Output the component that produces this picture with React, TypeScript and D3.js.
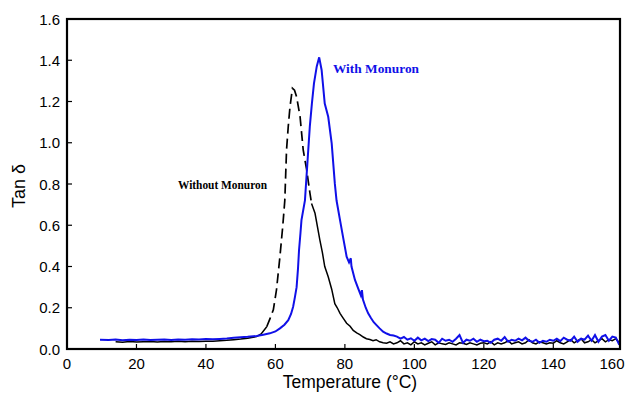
import React from "react";
import * as d3 from "d3";

// ---- Data ----
const withTemp = [
  9.5, 12, 14, 16, 18, 20, 22, 24, 26, 28, 30, 32, 34, 36, 38, 40, 42, 44, 46, 48, 50, 52,
  54.6, 56.5, 58.4, 60, 61.3, 62.6, 63.7, 64.5, 65.1, 65.6, 66.1, 66.5, 66.8, 67.2, 67.5,
  68.5, 69.2, 69.9, 70.5, 71.1, 71.9, 72.6, 73.3, 74.2, 75.2, 76.2, 77.1, 77.6, 78.6, 79.5,
  80.5, 81.2, 81.7, 81.9, 82.9, 83.9, 84.6, 84.9, 85.2, 86.0, 86.7, 87.5, 88.3, 89.1, 90.0,
  91.0, 92.0, 93.0, 94.0, 95.0,
  96, 97, 98, 99, 100, 101, 102, 103, 104, 105, 106, 107, 108, 109, 110, 111, 112, 113, 114,
  115, 116, 117, 118, 119, 120, 121, 122, 123, 124, 125, 126, 127, 128, 129, 130, 131, 132,
  133, 134, 135, 136, 137, 138, 139, 140, 141, 142, 143, 144, 145, 146, 147, 148, 149, 150,
  151, 152, 153, 154, 155, 156, 157, 158, 159,
];
const withTan = [
  0.045, 0.044, 0.046, 0.043, 0.045, 0.044, 0.046, 0.044, 0.045, 0.046, 0.044, 0.046, 0.045,
  0.047, 0.046, 0.048, 0.047, 0.049, 0.051, 0.054, 0.057, 0.059,
  0.063, 0.069, 0.076, 0.085, 0.1, 0.118, 0.14, 0.17, 0.205, 0.25, 0.3, 0.39, 0.48, 0.56, 0.625,
  0.72, 0.9, 1.078, 1.19, 1.288, 1.37, 1.414, 1.353, 1.19, 1.126, 0.997, 0.803, 0.72, 0.625, 0.54,
  0.448, 0.42, 0.44, 0.4, 0.335, 0.29, 0.26, 0.285, 0.24, 0.2, 0.173, 0.15, 0.13, 0.116, 0.1,
  0.084, 0.075, 0.068, 0.065, 0.06,
  0.05, 0.058, 0.045, 0.052, 0.04, 0.055, 0.042, 0.05, 0.038, 0.048, 0.045, 0.03, 0.05, 0.04,
  0.045, 0.035, 0.05, 0.068, 0.03, 0.045, 0.04, 0.05, 0.035, 0.045, 0.038, 0.04, 0.03, 0.045,
  0.05, 0.04, 0.058, 0.035, 0.045, 0.04, 0.05, 0.042, 0.055, 0.04, 0.035, 0.045, 0.03, 0.04,
  0.035, 0.045, 0.04, 0.05, 0.038, 0.055, 0.045, 0.04, 0.06, 0.035, 0.05, 0.045, 0.065, 0.04,
  0.068, 0.035, 0.06, 0.068, 0.04, 0.06, 0.055, 0.02,
];

const withoutTemp = [
  14, 16, 18, 20, 22, 24, 26, 28, 30, 32, 34, 36, 38, 40, 42, 44, 46, 48, 50, 52, 54.6, 56,
  57.5, 58.5, 59.4, 60.3, 61.3, 62.1, 62.7, 63.2, 63.7, 64.2, 64.9, 65.5, 66.1, 67.1, 68.0,
  69.0, 69.9, 70.4, 71.4, 72.8, 73.5, 74.2, 75.2, 76.2, 77.1, 77.8, 78.6, 79.5, 80.5, 81.5,
  82.4, 83.4, 84.3, 85.3, 86.2, 87.2, 88.1, 89, 90, 91, 92, 93, 94, 95,
  96, 97, 98, 99, 100, 101, 102, 103, 104, 105, 106, 107, 108, 109, 110, 111, 112, 113, 114,
  115, 116, 117, 118, 119, 120, 121, 122, 123, 124, 125, 126, 127, 128, 129, 130, 131, 132,
  133, 134, 135, 136, 137, 138, 139, 140, 141, 142, 143, 144, 145, 146, 147, 148, 149, 150,
  151, 152, 153, 154, 155, 156, 157, 158, 159,
];
const withoutTan = [
  0.035, 0.033, 0.036, 0.034, 0.035, 0.036, 0.034, 0.036, 0.035, 0.037, 0.035, 0.037, 0.036,
  0.038, 0.038, 0.04, 0.042, 0.045, 0.048, 0.052, 0.06, 0.075,
  0.108, 0.15, 0.19, 0.286, 0.448, 0.593, 0.72, 0.965, 1.08, 1.175, 1.264, 1.255, 1.223, 1.126,
  0.965, 0.868, 0.76, 0.706, 0.658, 0.528, 0.47, 0.4, 0.35, 0.29, 0.22, 0.2, 0.173, 0.15, 0.125,
  0.11, 0.09, 0.078, 0.07, 0.058, 0.05, 0.046, 0.04, 0.045, 0.035, 0.03, 0.028, 0.035, 0.025,
  0.03,
  0.04, 0.025, 0.03, 0.02, 0.035, 0.025, 0.03, 0.02, 0.028, 0.035, 0.02, 0.03, 0.025, 0.022,
  0.03, 0.025, 0.02, 0.03, 0.028, 0.022, 0.03, 0.025, 0.02, 0.028, 0.03, 0.025, 0.035, 0.02,
  0.03, 0.025, 0.03, 0.04, 0.025, 0.03, 0.035, 0.025, 0.03, 0.045, 0.03, 0.025, 0.035, 0.03,
  0.025, 0.03, 0.028, 0.04, 0.03, 0.025, 0.035, 0.045, 0.03, 0.04, 0.05, 0.03, 0.035, 0.045,
  0.03, 0.04, 0.05, 0.035, 0.045, 0.04, 0.05, 0.03,
];
// dashed portion of the "without" curve (temperature range)
const withoutDashRange = [57.5, 70.4];

const xTicks = [0, 20, 40, 60, 80, 100, 120, 140, 160];
const yTicks = [0, 0.2, 0.4, 0.6, 0.8, 1.0, 1.2, 1.4, 1.6];

const xLabel = "Temperature (°C)";
const yLabel = "Tan δ";
const withLabel = "With Monuron";
const withoutLabel = "Without Monuron";

// ---- Layout ----
const W = 625;
const H = 400;
const left = 67;
const right = 620;
const top = 19;
const bottom = 349;

export default function App() {
  const x = d3.scaleLinear().domain([0, 159.2]).range([left, right]);
  const y = d3.scaleLinear().domain([0, 1.6]).range([bottom, top]);

  const line = d3
    .line<[number, number]>()
    .x((d) => x(d[0]))
    .y((d) => y(d[1]));

  const withPts: [number, number][] = withTemp.map((t, i) => [t, withTan[i]]);
  const withoutPts: [number, number][] = withoutTemp.map((t, i) => [t, withoutTan[i]]);
  const [d0, d1] = withoutDashRange;
  const solidA = withoutPts.filter((p) => p[0] <= d0);
  const dashed = withoutPts.filter((p) => p[0] >= d0 && p[0] <= d1);
  const solidB = withoutPts.filter((p) => p[0] >= d1);

  const sans = "'Liberation Sans', Arial, sans-serif";
  const serif = "'Liberation Serif', 'Times New Roman', serif";

  return (
    <svg
      width={W}
      height={H}
      style={{ position: "absolute", left: 0, top: 0, background: "#fff" }}
    >
      <rect x={0} y={0} width={W} height={H} fill="#fff" />

      {/* curves */}
      <path d={line(solidA) || ""} fill="none" stroke="#000" strokeWidth={1.5} />
      <path
        d={line(dashed) || ""}
        fill="none"
        stroke="#000"
        strokeWidth={1.7}
        strokeDasharray="10,5"
      />
      <path d={line(solidB) || ""} fill="none" stroke="#000" strokeWidth={1.5} />
      <path d={line(withPts) || ""} fill="none" stroke="#1010e8" strokeWidth={2} />

      {/* frame */}
      <rect
        x={left}
        y={top}
        width={right - left}
        height={bottom - top}
        fill="none"
        stroke="#000"
        strokeWidth={2.2}
      />

      {/* x ticks */}
      {xTicks.map((t) => {
        const px = x(t);
        const inside = px > left + 2 && px < right - 2;
        return (
          <g key={"x" + t}>
            {inside && (
              <line x1={px} x2={px} y1={bottom} y2={bottom - 5} stroke="#000" strokeWidth={1.2} />
            )}
            <text
              x={Math.min(px, 612)}
              y={369}
              textAnchor="middle"
              fontFamily={sans}
              fontSize={15}
              fill="#000"
            >
              {t}
            </text>
          </g>
        );
      })}

      {/* y ticks */}
      {yTicks.map((t) => {
        const py = y(t);
        const inside = py > top + 2 && py < bottom - 2;
        return (
          <g key={"y" + t}>
            {inside && (
              <line x1={left} x2={left + 5} y1={py} y2={py} stroke="#000" strokeWidth={1.2} />
            )}
            <text
              x={60}
              y={py + 5.5}
              textAnchor="end"
              fontFamily={sans}
              fontSize={15}
              fill="#000"
            >
              {t.toFixed(1)}
            </text>
          </g>
        );
      })}

      {/* axis titles */}
      <text
        x={350}
        y={388}
        textAnchor="middle"
        fontFamily={sans}
        fontSize={17.5}
        fill="#000"
      >
        {xLabel}
      </text>
      <text
        transform={`translate(25,186) rotate(-90)`}
        textAnchor="middle"
        fontFamily={sans}
        fontSize={18}
        fill="#000"
      >
        {yLabel}
      </text>

      {/* annotations */}
      <text
        x={333}
        y={73}
        fontFamily={serif}
        fontWeight="bold"
        fontSize={13}
        fill="#1010e8"
        textLength={86}
        lengthAdjust="spacingAndGlyphs"
      >
        {withLabel}
      </text>
      <text
        x={178}
        y={189}
        fontFamily={serif}
        fontWeight="bold"
        fontSize={12.5}
        fill="#000"
        textLength={89}
        lengthAdjust="spacingAndGlyphs"
      >
        {withoutLabel}
      </text>
    </svg>
  );
}
